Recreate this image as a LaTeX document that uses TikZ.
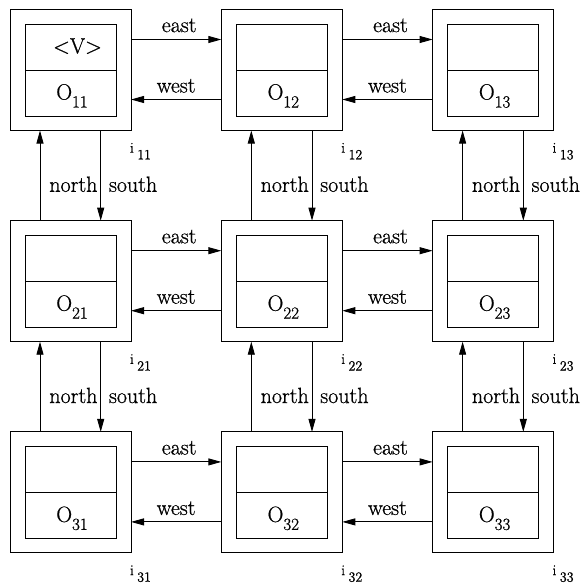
\documentclass[tikz,border=0pt]{standalone}
\usepackage{fontspec}
\setmainfont{Latin Modern Roman}[FakeBold=0.8]
\usetikzlibrary{arrows.meta,calc}
\begin{document}
\begin{tikzpicture}[x=1pt,y=-1pt,
  outer/.style={draw,line width=0.9pt,minimum width=121pt,minimum height=121pt,inner sep=0pt,outer sep=0pt},
  inner/.style={draw,line width=0.9pt,minimum width=91pt,minimum height=46pt,inner sep=0pt,outer sep=0pt},
  txt/.style={inner sep=0pt,outer sep=0pt,font=\fontsize{22}{26}\selectfont},
  ilbl/.style={inner sep=0pt,outer sep=0pt,anchor=base west},
  arr/.style={line width=0.9pt,-{Triangle[length=13pt,width=7pt]}},
]
\useasboundingbox (0,0) rectangle (585,584);
\foreach \r in {1,2,3}{
  \foreach \c in {1,2,3}{
    \pgfmathsetmacro{\L}{10+(\c-1)*211.3}
    \pgfmathsetmacro{\T}{9.5+(\r-1)*211.2}
    \node[outer] (c\r\c) at (\L+60.5,\T+60.5) {};
    \node[inner] (u\r\c) at (\L+60.5,\T+37.5) {};
    \node[inner] (l\r\c) at (\L+60.5,\T+83.5) {};
    \node[txt,anchor=base] (o\r\c) at (\L+62,\T+90) {O\raisebox{-8pt}{\fontsize{17}{17}\selectfont\r\c}};
    \node[ilbl] (i\r\c) at (\L+120,\T+143.2) {\fontsize{15}{15}\selectfont i\hspace{3.5pt}\raisebox{-6.6pt}{\fontsize{14}{14}\selectfont\r\c}};
  }
}
\node[txt,anchor=base] (v) at (77.5,53.3) {<V>};
\foreach \r in {1,2,3}{
  \foreach \c/\d in {1/2,2/3}{
    \draw[arr] ($(c\r\c.north east)+(0,30)$) -- ($(c\r\d.north west)+(0,30)$);
    \draw[arr] ($(c\r\d.north west)+(0,90)$) -- ($(c\r\c.north east)+(0,90)$);
    \node[txt,anchor=base] (e\r\c) at ($(c\r\c.north east)!0.5!(c\r\d.north west)+(3,22.6)$) {east};
    \node[txt,anchor=base] (w\r\c) at ($(c\r\c.north east)!0.5!(c\r\d.north west)+(0,83)$) {west};
  }
}
\foreach \r/\s in {1/2,2/3}{
  \foreach \c in {1,2,3}{
    \draw[arr] ($(c\s\c.north west)+(30,0)$) -- ($(c\r\c.south west)+(30,0)$);
    \draw[arr] ($(c\r\c.south west)+(90.7,0)$) -- ($(c\s\c.north west)+(90.7,0)$);
    \node[txt,anchor=base east] (n\r\c) at ($(c\r\c.south west)+(87.5,61.3)$) {north};
    \node[txt,anchor=base west] (s\r\c) at ($(c\r\c.south west)+(99,61.3)$) {south};
  }
}
\end{tikzpicture}
\end{document}
